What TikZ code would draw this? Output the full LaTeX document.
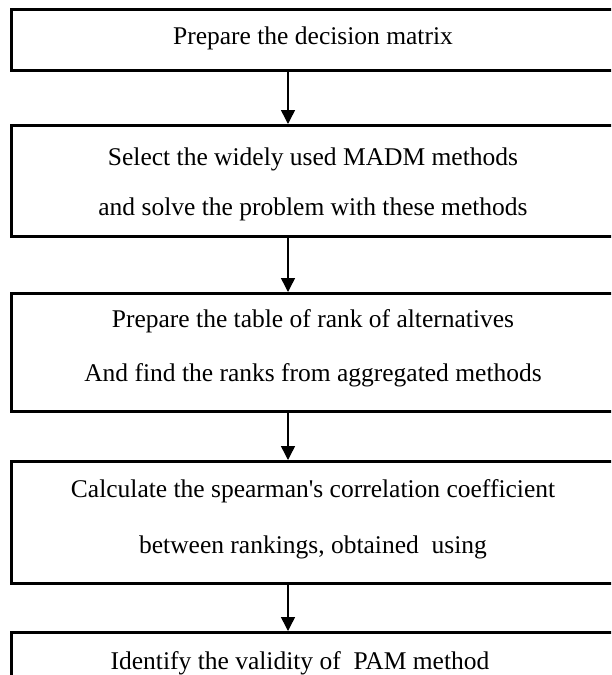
\documentclass[tikz,border=0pt]{standalone}
\usepackage{fontspec}
\setmainfont{Liberation Serif}
\usetikzlibrary{arrows.meta}
\begin{document}
\begin{tikzpicture}[x=1pt,y=-1pt,
  stepbox/.style={draw,line width=3pt,rectangle,inner sep=0pt},
  label/.style={font=\fontsize{25.5}{28}\selectfont,inner sep=0pt,anchor=center},
  arr/.style={line width=1.5pt,-{Triangle[length=14pt,width=14pt]}}]
\useasboundingbox (0,0) rectangle (611,675);
\clip (0,0) rectangle (611,675);
\fill[white] (0,0) rectangle (611,675);
\coordinate (ax) at (288,0);
% boxes
\node[stepbox,minimum width=606pt,minimum height=61pt,anchor=north west] (b1) at (10,8) {};
\node[stepbox,minimum width=606pt,minimum height=111pt,anchor=north west] (b2) at (10,124) {};
\node[stepbox,minimum width=606pt,minimum height=118pt,anchor=north west] (b3) at (10,292) {};
\node[stepbox,minimum width=606pt,minimum height=122pt,anchor=north west] (b4) at (10,460) {};
\node[stepbox,minimum width=606pt,minimum height=80pt,anchor=north west] (b5) at (10,631) {};
% texts
\node[label] (t1) at (313,38) {Prepare the decision matrix};
\node[label] (t2a) at (313,159) {Select the widely used MADM methods};
\node[label] (t2b) at (313,209) {and solve the problem with these methods};
\node[label] (t3a) at (313,321) {Prepare the table of rank of alternatives};
\node[label] (t3b) at (313,375) {And find the ranks from aggregated methods};
\node[label] (t4a) at (313,491) {Calculate the spearman\textquotesingle s correlation coefficient};
\node[label] (t4b) at (313,547) {between rankings, obtained\ \ using};
\node[label] (t5) at (300,663) {Identify the validity of\ \ PAM method};
% arrows
\draw[arr] (b1.south -| ax) -- (b2.north -| ax);
\draw[arr] (b2.south -| ax) -- (b3.north -| ax);
\draw[arr] (b3.south -| ax) -- (b4.north -| ax);
\draw[arr] (b4.south -| ax) -- (b5.north -| ax);
\end{tikzpicture}
\end{document}
